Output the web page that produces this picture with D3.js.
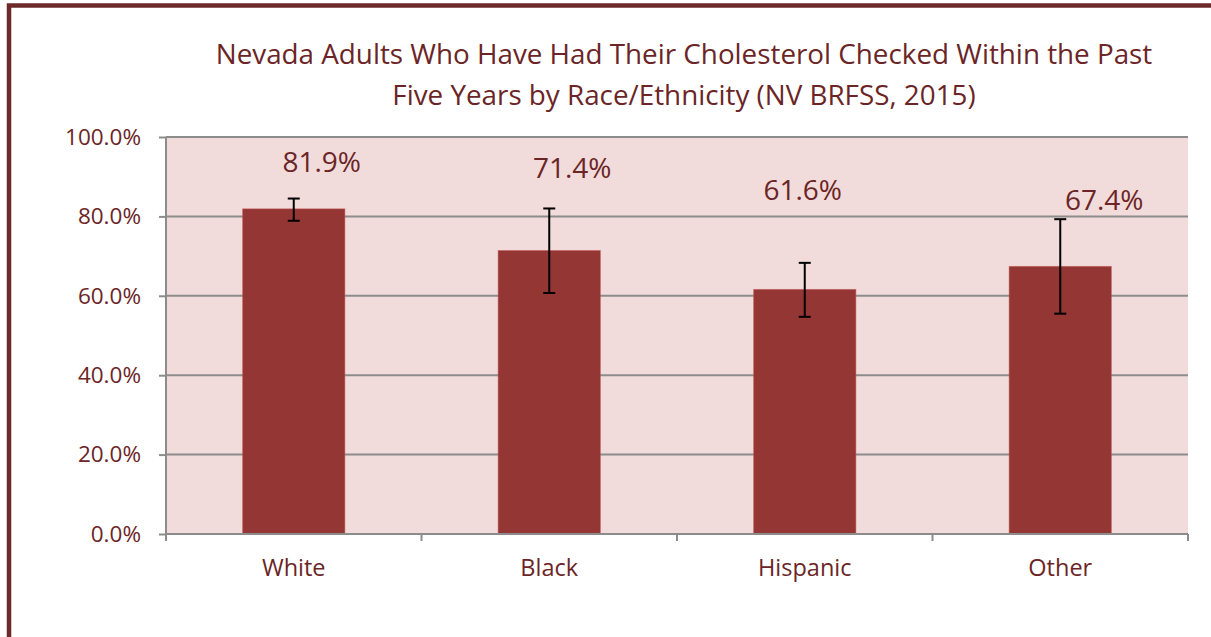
<!DOCTYPE html>
<html><head><meta charset="utf-8">
<script src="https://cdn.jsdelivr.net/npm/d3@7"></script>
<style>body{margin:0;background:#fff}svg{display:block}text{font-family:"Open Sans",sans-serif}</style>
</head><body><svg id="c" width="1211" height="637"></svg>
<script>
const categories = ["White","Black","Hispanic","Other"];
const values = [81.9,71.4,61.6,67.4];
const ciLow = [78.9,60.7,54.7,55.5];
const ciHigh = [84.5,82.0,68.3,79.3];
const yTicks = [0,20,40,60,80,100];
const titleLines = ["Nevada Adults Who Have Had Their Cholesterol Checked Within the Past","Five Years by Race/Ethnicity (NV BRFSS, 2015)"];
// label placement (px): horizontal offset from bar center, vertical center
const labelDx = [28,23,-2,44];
const labelY = [162,168,190,200];

const svg = d3.select("#c");
const dark = "#6b2526";
const font = "'Open Sans',sans-serif";
const m = {l:166, r:1188, t:137, b:534};
svg.append("rect").attr("x",9).attr("y",5.5).attr("width",1300).attr("height",700)
  .attr("fill","none").attr("stroke","#6e2a2a").attr("stroke-width",4.5);

const x = d3.scaleBand().domain(categories).range([m.l,m.r]).paddingInner(0.6).paddingOuter(0.3);
const y = d3.scaleLinear().domain([0,100]).range([m.b,m.t]);

svg.append("rect").attr("x",m.l).attr("y",m.t).attr("width",m.r-m.l).attr("height",m.b-m.t).attr("fill","#f2dcdb");

// gridlines
svg.append("g").selectAll("line").data(yTicks.filter(d=>d>0)).join("line")
  .attr("x1",m.l).attr("x2",m.r).attr("y1",d=>y(d)).attr("y2",d=>y(d))
  .attr("stroke","#8c8c8c").attr("stroke-width",2);

// bars
svg.append("g").selectAll("rect").data(values).join("rect")
  .attr("x",(d,i)=>x(categories[i])).attr("width",x.bandwidth())
  .attr("y",d=>y(d)).attr("height",d=>y(0)-y(d))
  .attr("fill","#943634").attr("stroke","#c0504d").attr("stroke-opacity",0.5).attr("stroke-width",1);

// error bars
const eg = svg.append("g").attr("stroke","#000").attr("stroke-width",2);
categories.forEach((c,i)=>{
  const cx = x(c)+x.bandwidth()/2;
  eg.append("line").attr("x1",cx).attr("x2",cx).attr("y1",y(ciLow[i])).attr("y2",y(ciHigh[i]));
  eg.append("line").attr("x1",cx-6).attr("x2",cx+6).attr("y1",y(ciLow[i])).attr("y2",y(ciLow[i]));
  eg.append("line").attr("x1",cx-6).attr("x2",cx+6).attr("y1",y(ciHigh[i])).attr("y2",y(ciHigh[i]));
});

// y axis
const ya = svg.append("g").attr("transform",`translate(${m.l},0)`)
  .call(d3.axisLeft(y).tickValues(yTicks).tickFormat(d=>d.toFixed(1)+"%").tickSize(7).tickPadding(18));
ya.select(".domain").attr("stroke","#8c8c8c").attr("stroke-width",2).attr("d",`M0,${m.t}V${m.b}`);
ya.selectAll(".tick line").attr("stroke","#8c8c8c").attr("stroke-width",2);
ya.selectAll(".tick text").attr("fill",dark).attr("font-size",22.5).attr("font-family",font);

// x axis
const xa = svg.append("g").attr("transform",`translate(0,${m.b})`)
  .call(d3.axisBottom(x).tickSize(0).tickPadding(25));
xa.select(".domain").attr("stroke","#8c8c8c").attr("stroke-width",2).attr("d",`M${m.l},0H${m.r}`);
xa.selectAll(".tick text").attr("fill",dark).attr("font-size",23.5).attr("font-family",font);
const step = (m.r-m.l)/categories.length;
xa.selectAll(".sep").data(d3.range(categories.length+1)).join("line").attr("class","sep")
  .attr("x1",i=>m.l+i*step).attr("x2",i=>m.l+i*step).attr("y1",0).attr("y2",7)
  .attr("stroke","#8c8c8c").attr("stroke-width",2);

// data labels
svg.append("g").selectAll("text").data(values).join("text")
  .attr("x",(d,i)=>x(categories[i])+x.bandwidth()/2+labelDx[i]).attr("y",(d,i)=>labelY[i])
  .attr("dy","0.36em").attr("text-anchor","middle").attr("fill",dark).attr("font-size",28)
  .attr("font-family",font).text(d=>d.toFixed(1)+"%");

// title
svg.append("g").selectAll("text").data(titleLines).join("text")
  .attr("x",684).attr("y",(d,i)=>53.5+i*41.5).attr("dy","0.36em").attr("text-anchor","middle")
  .attr("fill",dark).attr("font-size",27.8).attr("font-family",font).text(d=>d);
</script></body></html>
